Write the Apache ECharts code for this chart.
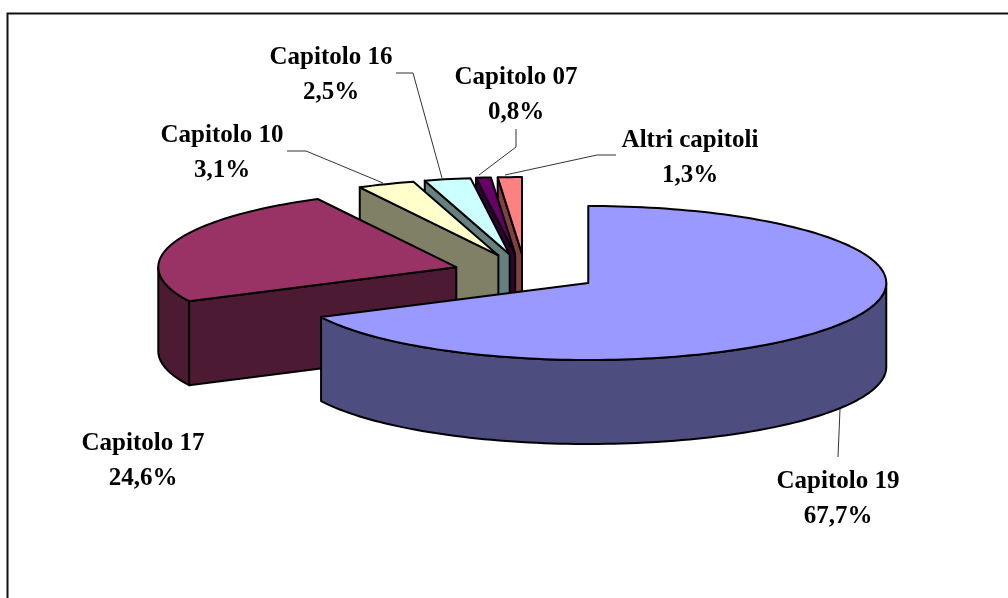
<!DOCTYPE html>
<html><head><meta charset="utf-8">
<style>html,body{margin:0;padding:0;background:#fff}#c{width:1008px;height:598px}</style>
<script src="https://cdn.jsdelivr.net/npm/echarts@6/dist/echarts.min.js"></script>
</head><body><div id="c"></div>
<script>
// Data (clockwise from 12 o'clock)
const categories = ['Capitolo 19','Capitolo 17','Capitolo 10','Capitolo 16','Capitolo 07','Altri capitoli'];
const values = [67.7,24.6,3.1,2.5,0.8,1.3];
const valueLabels = ['67,7%','24,6%','3,1%','2,5%','0,8%','1,3%'];
// Styles / layout
const topColors = ['#9999FF','#993366','#FFFFCC','#CCFFFF','#660066','#FF8080'];
const wallColors = ['#4D4D80','#4D1A33','#808066','#668080','#330033','#804040'];
const CX=526, CY=273, RX=298, RY=77, DEPTH=84, EXPLODE=0.246;
const apexNudgeX = [0,0,0,-1,-3,-1];
const labelPos = [[838,464],[143,426],[222,118],[331,40],[516,60],[690,123]];
const leaders = [
  [[838,457],[840,409]],
  null,
  [[287,151],[306,151],[383,183]],
  [[396,73],[413,73],[442,178]],
  [[516,129],[516,147],[479,175]],
  [[616,155],[597,155],[505,175]]
];
const total = values.reduce((a,b)=>a+b,0);
let acc=0;
const slices = values.map((v,i)=>{const s=acc/total*360;acc+=v;const e=acc/total*360;
  const m=(s+e)/2*Math.PI/180;
  return {i,s,e,ax:CX+EXPLODE*RX*Math.sin(m)+apexNudgeX[i],ay:CY-EXPLODE*RY*Math.cos(m)};});
const pt=(sl,d)=>{const a=d*Math.PI/180;return [sl.ax+RX*Math.sin(a),sl.ay-RY*Math.cos(a)];};
const arc=(sl,a,b)=>{const p=[];const n=Math.max(2,Math.ceil((b-a)/1.5));for(let k=0;k<=n;k++)p.push(pt(sl,a+(b-a)*k/n));return p;};
const LINE={stroke:'#000',lineWidth:2,lineJoin:'round'};
function poly(points,fill){return {type:'polygon',shape:{points},style:Object.assign({fill},LINE)};}
function sliceShapes(sl){
  const out=[],wall=wallColors[sl.i];
  // radial start face, visible on the left half of the ellipse
  if(sl.s>180&&sl.s<360){
    const p=pt(sl,sl.s);
    out.push(poly([[sl.ax,sl.ay],p,[p[0],p[1]+DEPTH],[sl.ax,sl.ay+DEPTH]],wall));
  }
  // outer wall, visible from 90 to 270 degrees
  const a=Math.max(sl.s,90),b=Math.min(sl.e,270);
  if(b>a){
    const up=arc(sl,a,b),down=up.map(q=>[q[0],q[1]+DEPTH]).reverse();
    out.push(poly(up.concat(down),wall));
  }
  out.push(poly([[sl.ax,sl.ay]].concat(arc(sl,sl.s,sl.e)),topColors[sl.i]));
  return out;
}
const order=[5,4,3,2,1,0];
const chart=echarts.init(document.getElementById('c'),null,{renderer:'canvas'});
chart.setOption({
  animation:false,
  backgroundColor:'#fff',
  series:[{
    type:'custom',coordinateSystem:'none',silent:true,
    data:categories.map((c,i)=>[i,values[i]]),
    renderItem(params,api){
      if(params.dataIndex!==0) return {type:'group',children:[]};
      const ch=[];
      ch.push({type:'polyline',shape:{points:[[7.5,598],[7.5,13.5],[1008,13.5]]},style:{stroke:'#111',lineWidth:2,fill:null}});
      order.forEach(i=>ch.push(...sliceShapes(slices[i])));
      leaders.forEach(l=>{if(l)ch.push({type:'polyline',shape:{points:l},style:{stroke:'#333',lineWidth:1,fill:null}});});
      categories.forEach((c,i)=>{
        ch.push({type:'text',style:{text:c+'\n'+valueLabels[i],x:labelPos[i][0],y:labelPos[i][1],
          align:'center',verticalAlign:'top',fill:'#000',lineHeight:35,
          font:'bold 25px "Liberation Serif"'}});
      });
      return {type:'group',children:ch};
    }
  }]
});
</script></body></html>
